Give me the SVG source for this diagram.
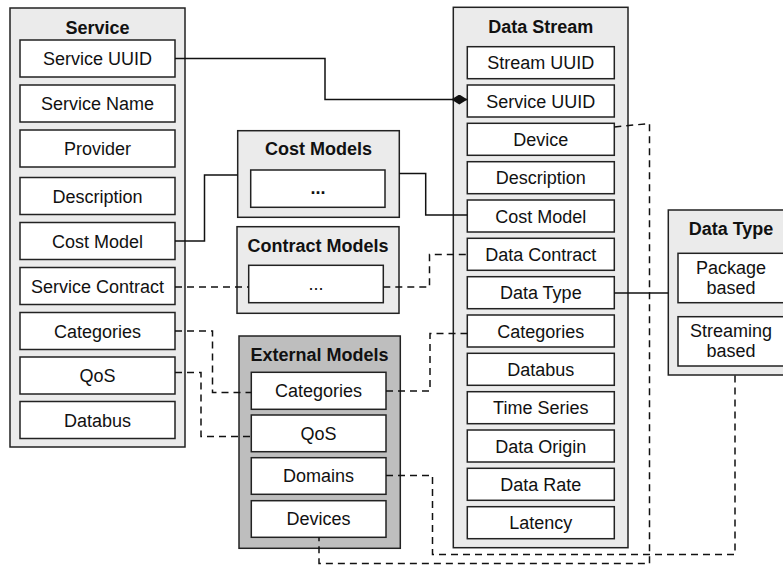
<svg xmlns="http://www.w3.org/2000/svg" width="783" height="567" viewBox="0 0 783 567">
<defs>
<style>
.outer{fill:#ebebeb;stroke:#222;stroke-width:1.5}
.outer2{fill:#bebebe;stroke:#222;stroke-width:1.5}
.field{fill:#fff;stroke:#222;stroke-width:1.5}
.t{font-family:"Liberation Sans",Arial,Helvetica,sans-serif;font-size:18px;fill:#111;text-anchor:middle}
.b{font-weight:bold}
.solid{fill:none;stroke:#111;stroke-width:1.5}
.dash{fill:none;stroke:#111;stroke-width:1.5;stroke-dasharray:7 5}
</style>
<marker id="diamond" viewBox="0 0 16 10" markerWidth="16" markerHeight="10" refX="16" refY="5" orient="auto" markerUnits="userSpaceOnUse">
<path d="M0,5 L8,0 L16,5 L8,10 Z" fill="#111"/>
</marker>
</defs>
<rect width="783" height="567" fill="#fff"/>

<g id="service">
<rect class="outer" x="10" y="8" width="175" height="439"/>
<text class="t b" x="97.5" y="33.5">Service</text>
<rect class="field" x="20" y="40" width="155" height="37"/><text class="t" x="97.5" y="65">Service UUID</text>
<rect class="field" x="20" y="85" width="155" height="37"/><text class="t" x="97.5" y="110">Service Name</text>
<rect class="field" x="20" y="130" width="155" height="37"/><text class="t" x="97.5" y="155">Provider</text>
<rect class="field" x="20" y="177.5" width="155" height="37"/><text class="t" x="97.5" y="202.5">Description</text>
<rect class="field" x="20" y="222.5" width="155" height="37"/><text class="t" x="97.5" y="247.5">Cost Model</text>
<rect class="field" x="20" y="267.5" width="155" height="37"/><text class="t" x="97.5" y="292.5">Service Contract</text>
<rect class="field" x="20" y="312.5" width="155" height="37"/><text class="t" x="97.5" y="337.5">Categories</text>
<rect class="field" x="20" y="357" width="155" height="37"/><text class="t" x="97.5" y="382">QoS</text>
<rect class="field" x="20" y="401.5" width="155" height="37"/><text class="t" x="97.5" y="426.5">Databus</text>
</g>

<g id="cost-models">
<rect class="outer" x="237.7" y="130.7" width="161.6" height="86.6"/>
<text class="t b" x="318.5" y="155">Cost Models</text>
<rect class="field" x="250.7" y="170" width="134.3" height="37.3"/>
<text class="t b" x="318" y="194">...</text>
</g>

<g id="contract-models">
<rect class="outer" x="237" y="226.7" width="162" height="86.6"/>
<text class="t b" x="318" y="251.5">Contract Models</text>
<rect class="field" x="248.7" y="265.3" width="134.6" height="37.4"/>
<text class="t" x="316" y="290">...</text>
</g>

<g id="external-models">
<rect class="outer2" x="239" y="336" width="161.3" height="212.3"/>
<text class="t b" x="319.5" y="360.5">External Models</text>
<rect class="field" x="251.3" y="372.3" width="134.7" height="37"/><text class="t" x="318.6" y="397">Categories</text>
<rect class="field" x="251.3" y="415" width="134.7" height="36.7"/><text class="t" x="318.6" y="439.5">QoS</text>
<rect class="field" x="251.3" y="457.7" width="134.7" height="36.6"/><text class="t" x="318.6" y="482">Domains</text>
<rect class="field" x="251.3" y="500.7" width="134.7" height="36.6"/><text class="t" x="318.6" y="525">Devices</text>
</g>

<g id="data-stream">
<rect class="outer" x="453.3" y="7.3" width="174.7" height="540.4"/>
<text class="t b" x="540.7" y="33">Data Stream</text>
<rect class="field" x="467.3" y="46.7" width="147" height="32"/><text class="t" x="540.8" y="69.2">Stream UUID</text>
<rect class="field" x="467.3" y="85" width="147" height="32"/><text class="t" x="540.8" y="107.5">Service UUID</text>
<rect class="field" x="467.3" y="123.3" width="147" height="32"/><text class="t" x="540.8" y="145.8">Device</text>
<rect class="field" x="467.3" y="161.7" width="147" height="32"/><text class="t" x="540.8" y="184.2">Description</text>
<rect class="field" x="467.3" y="200" width="147" height="32"/><text class="t" x="540.8" y="222.5">Cost Model</text>
<rect class="field" x="467.3" y="238.3" width="147" height="32"/><text class="t" x="540.8" y="260.8">Data Contract</text>
<rect class="field" x="467.3" y="276.7" width="147" height="32"/><text class="t" x="540.8" y="299.2">Data Type</text>
<rect class="field" x="467.3" y="315" width="147" height="32"/><text class="t" x="540.8" y="337.5">Categories</text>
<rect class="field" x="467.3" y="353.3" width="147" height="32"/><text class="t" x="540.8" y="375.8">Databus</text>
<rect class="field" x="467.3" y="391.7" width="147" height="32"/><text class="t" x="540.8" y="414.2">Time Series</text>
<rect class="field" x="467.3" y="430" width="147" height="32"/><text class="t" x="540.8" y="452.5">Data Origin</text>
<rect class="field" x="467.3" y="468.3" width="147" height="32"/><text class="t" x="540.8" y="490.8">Data Rate</text>
<rect class="field" x="467.3" y="506.7" width="147" height="32"/><text class="t" x="540.8" y="529.2">Latency</text>
</g>

<g id="data-type">
<rect class="outer" x="668.3" y="210" width="126" height="165"/>
<text class="t b" x="731" y="234.5">Data Type</text>
<rect class="field" x="678" y="253.3" width="106" height="49.4"/>
<text class="t" x="731" y="274">Package</text><text class="t" x="731" y="294">based</text>
<rect class="field" x="678" y="316.7" width="106" height="49.3"/>
<text class="t" x="731" y="336.7">Streaming</text><text class="t" x="731" y="357">based</text>
</g>

<g id="connectors">
<path class="solid" d="M175,58.5 H325 V99.5 H467.3" marker-end="url(#diamond)"/>
<path class="solid" d="M175,241 H204.5 V175 H237.7"/>
<path class="solid" d="M399.3,173.5 H425.7 V215 H467.3"/>
<path class="solid" d="M614.3,293 H668.3"/>
<path class="dash" d="M175,287 H248.7"/>
<path class="dash" d="M383.3,287 H429.5 V254.5 H467.3"/>
<path class="dash" d="M175,331 H212.5 V392.5 H251.3"/>
<path class="dash" d="M175,372.5 H201 V436.5 H251.3"/>
<path class="dash" d="M386,391 H430 V333.5 H467.3"/>
<path class="dash" d="M386,475.5 H432.5 V554.5 H735 V375"/>
<path class="dash" d="M614.3,127 L649.5,123.5 V563.5 H319 V537.3"/>
</g>
</svg>
